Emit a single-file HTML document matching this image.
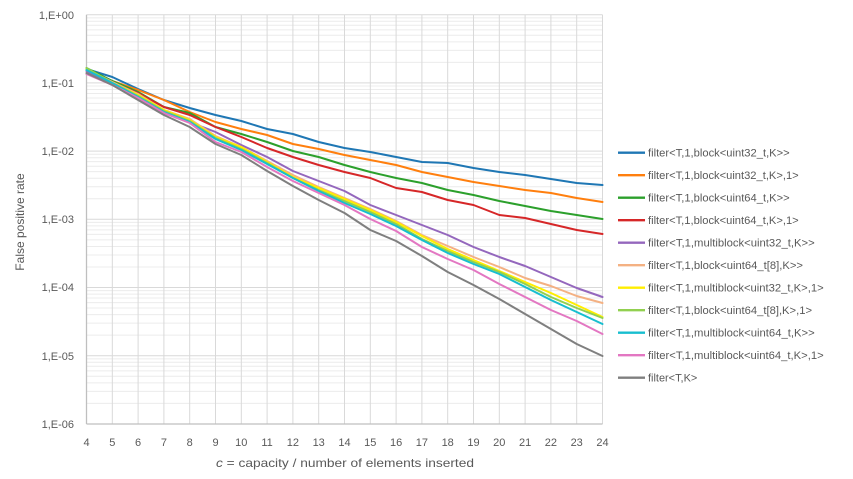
<!DOCTYPE html>
<html><head><meta charset="utf-8"><style>
html,body{margin:0;padding:0;background:#fff;}
svg{display:block;font-family:"Liberation Sans",sans-serif;}
</style></head><body>
<svg width="853" height="479" viewBox="0 0 853 479" xmlns="http://www.w3.org/2000/svg">
<rect width="853" height="479" fill="#fff"/>
<defs>
<g id="mn" stroke="#ececec" stroke-width="1">
<line x1="86.5" x2="602.5" y1="3.12" y2="3.12"/>
<line x1="86.5" x2="602.5" y1="6.61" y2="6.61"/>
<line x1="86.5" x2="602.5" y1="10.56" y2="10.56"/>
<line x1="86.5" x2="602.5" y1="15.13" y2="15.13"/>
<line x1="86.5" x2="602.5" y1="20.53" y2="20.53"/>
<line x1="86.5" x2="602.5" y1="27.14" y2="27.14"/>
<line x1="86.5" x2="602.5" y1="35.66" y2="35.66"/>
<line x1="86.5" x2="602.5" y1="47.67" y2="47.67"/>
</g>
</defs>
<use href="#mn" transform="translate(0,14.7)"/>
<use href="#mn" transform="translate(0,82.9)"/>
<use href="#mn" transform="translate(0,151.1)"/>
<use href="#mn" transform="translate(0,219.3)"/>
<use href="#mn" transform="translate(0,287.5)"/>
<use href="#mn" transform="translate(0,355.7)"/>
<g stroke="#d9d9d9" stroke-width="1">
<line x1="86.5" x2="602.5" y1="14.7" y2="14.7"/>
<line x1="86.5" x2="602.5" y1="82.9" y2="82.9"/>
<line x1="86.5" x2="602.5" y1="151.1" y2="151.1"/>
<line x1="86.5" x2="602.5" y1="219.3" y2="219.3"/>
<line x1="86.5" x2="602.5" y1="287.5" y2="287.5"/>
<line x1="86.5" x2="602.5" y1="355.7" y2="355.7"/>
<line y1="14.7" y2="424" x1="112.3" x2="112.3"/>
<line y1="14.7" y2="424" x1="138.1" x2="138.1"/>
<line y1="14.7" y2="424" x1="163.9" x2="163.9"/>
<line y1="14.7" y2="424" x1="189.7" x2="189.7"/>
<line y1="14.7" y2="424" x1="215.5" x2="215.5"/>
<line y1="14.7" y2="424" x1="241.3" x2="241.3"/>
<line y1="14.7" y2="424" x1="267.1" x2="267.1"/>
<line y1="14.7" y2="424" x1="292.9" x2="292.9"/>
<line y1="14.7" y2="424" x1="318.7" x2="318.7"/>
<line y1="14.7" y2="424" x1="344.5" x2="344.5"/>
<line y1="14.7" y2="424" x1="370.3" x2="370.3"/>
<line y1="14.7" y2="424" x1="396.1" x2="396.1"/>
<line y1="14.7" y2="424" x1="421.9" x2="421.9"/>
<line y1="14.7" y2="424" x1="447.7" x2="447.7"/>
<line y1="14.7" y2="424" x1="473.5" x2="473.5"/>
<line y1="14.7" y2="424" x1="499.3" x2="499.3"/>
<line y1="14.7" y2="424" x1="525.1" x2="525.1"/>
<line y1="14.7" y2="424" x1="550.9" x2="550.9"/>
<line y1="14.7" y2="424" x1="576.7" x2="576.7"/>
<line y1="14.7" y2="424" x1="602.5" x2="602.5"/>
</g>
<g stroke="#bfbfbf" stroke-width="1.3">
<line x1="86.5" x2="86.5" y1="14.7" y2="424"/>
<line x1="86.5" x2="602.5" y1="424" y2="424"/>
</g>
<g fill="none" stroke-width="2" stroke-linejoin="round" stroke-linecap="round">
<polyline stroke="#1f77b4" points="86.5,69 112.3,77 138.1,89 163.9,100 189.7,108 215.5,115 241.3,121 267.1,129 292.9,134 318.7,142 344.5,148 370.3,152 396.1,157 421.9,162 447.7,163 473.5,168 499.3,172 525.1,175 550.9,179 576.7,183 602.5,185"/>
<polyline stroke="#ff7f0e" points="86.5,70 112.3,81 138.1,90 163.9,100 189.7,112 215.5,122 241.3,129 267.1,135 292.9,144 318.7,149 344.5,155 370.3,160 396.1,165 421.9,172 447.7,177 473.5,182 499.3,186 525.1,190 550.9,193 576.7,198 602.5,202"/>
<polyline stroke="#2ca02c" points="86.5,68 112.3,81 138.1,92 163.9,107 189.7,113 215.5,127 241.3,134 267.1,142 292.9,151 318.7,157 344.5,165 370.3,172 396.1,178 421.9,183 447.7,190 473.5,195 499.3,201 525.1,206 550.9,211 576.7,215 602.5,219"/>
<polyline stroke="#d62728" points="86.5,70 112.3,83 138.1,93 163.9,107 189.7,115 215.5,127 241.3,137 267.1,148 292.9,157 318.7,165 344.5,172 370.3,178 396.1,188 421.9,192 447.7,200 473.5,205 499.3,215 525.1,218 550.9,224 576.7,230 602.5,234"/>
<polyline stroke="#9467bd" points="86.5,71 112.3,84 138.1,97 163.9,113 189.7,122 215.5,132 241.3,145 267.1,157 292.9,171 318.7,181 344.5,191 370.3,205 396.1,215 421.9,225 447.7,235 473.5,247 499.3,257 525.1,266 550.9,277 576.7,288 602.5,297"/>
<polyline stroke="#f4b183" points="86.5,69 112.3,82 138.1,94 163.9,110 189.7,119 215.5,136 241.3,147 267.1,161 292.9,175 318.7,187 344.5,198 370.3,209 396.1,221 421.9,235 447.7,246 473.5,257 499.3,267 525.1,278 550.9,286 576.7,296 602.5,303"/>
<polyline stroke="#ffee00" points="86.5,69 112.3,83 138.1,95 163.9,110 189.7,120 215.5,137 241.3,147 267.1,162 292.9,177 318.7,188 344.5,199 370.3,210 396.1,222 421.9,236 447.7,249 473.5,260 499.3,271 525.1,282 550.9,293 576.7,305 602.5,317"/>
<polyline stroke="#92d050" points="86.5,68 112.3,83 138.1,96 163.9,111 189.7,121 215.5,138 241.3,149 267.1,163 292.9,178 318.7,190 344.5,201 370.3,212 396.1,224 421.9,239 447.7,251 473.5,262 499.3,272 525.1,284 550.9,297 576.7,308 602.5,318"/>
<polyline stroke="#17becf" points="86.5,70 112.3,83 138.1,97 163.9,112 189.7,122 215.5,139 241.3,150 267.1,164 292.9,178 318.7,191 344.5,203 370.3,214 396.1,226 421.9,240 447.7,253 473.5,264 499.3,274 525.1,287 550.9,300 576.7,312 602.5,324"/>
<polyline stroke="#e377c2" points="86.5,74 112.3,85 138.1,98 163.9,113 189.7,123 215.5,142 241.3,152 267.1,167 292.9,181 318.7,193 344.5,205 370.3,219 396.1,231 421.9,247 447.7,259 473.5,270 499.3,284 525.1,297 550.9,310 576.7,321 602.5,334"/>
<polyline stroke="#7f7f7f" points="86.5,73 112.3,85 138.1,100 163.9,115 189.7,127 215.5,144 241.3,155 267.1,171 292.9,186 318.7,200 344.5,213 370.3,230 396.1,241 421.9,256 447.7,272 473.5,285 499.3,299 525.1,314 550.9,329 576.7,344 602.5,356"/>
</g>
<g fill="#595959" font-size="11" text-anchor="end">
<text x="74" y="19">1,E+00</text>
<text x="74" y="87">1,E-01</text>
<text x="74" y="155">1,E-02</text>
<text x="74" y="223">1,E-03</text>
<text x="74" y="291">1,E-04</text>
<text x="74" y="360">1,E-05</text>
<text x="74" y="428">1,E-06</text>
</g>
<g fill="#595959" font-size="11" text-anchor="middle">
<text x="86.5" y="446">4</text>
<text x="112.3" y="446">5</text>
<text x="138.1" y="446">6</text>
<text x="163.9" y="446">7</text>
<text x="189.7" y="446">8</text>
<text x="215.5" y="446">9</text>
<text x="241.3" y="446">10</text>
<text x="267.1" y="446">11</text>
<text x="292.9" y="446">12</text>
<text x="318.7" y="446">13</text>
<text x="344.5" y="446">14</text>
<text x="370.3" y="446">15</text>
<text x="396.1" y="446">16</text>
<text x="421.9" y="446">17</text>
<text x="447.7" y="446">18</text>
<text x="473.5" y="446">19</text>
<text x="499.3" y="446">20</text>
<text x="525.1" y="446">21</text>
<text x="550.9" y="446">22</text>
<text x="576.7" y="446">23</text>
<text x="602.5" y="446">24</text>
</g>
<text x="216" y="467" fill="#595959" font-size="12" textLength="258" lengthAdjust="spacingAndGlyphs"><tspan font-style="italic">c</tspan> = capacity / number of elements inserted</text>
<text transform="translate(24,222) rotate(-90)" fill="#595959" font-size="12" text-anchor="middle">False positive rate</text>
<g stroke-width="2.4">
<line x1="618" x2="645" y1="152.7" y2="152.7" stroke="#1f77b4"/>
<line x1="618" x2="645" y1="175.2" y2="175.2" stroke="#ff7f0e"/>
<line x1="618" x2="645" y1="197.7" y2="197.7" stroke="#2ca02c"/>
<line x1="618" x2="645" y1="220.2" y2="220.2" stroke="#d62728"/>
<line x1="618" x2="645" y1="242.7" y2="242.7" stroke="#9467bd"/>
<line x1="618" x2="645" y1="265.2" y2="265.2" stroke="#f4b183"/>
<line x1="618" x2="645" y1="287.7" y2="287.7" stroke="#ffee00"/>
<line x1="618" x2="645" y1="310.2" y2="310.2" stroke="#92d050"/>
<line x1="618" x2="645" y1="332.7" y2="332.7" stroke="#17becf"/>
<line x1="618" x2="645" y1="355.2" y2="355.2" stroke="#e377c2"/>
<line x1="618" x2="645" y1="377.7" y2="377.7" stroke="#7f7f7f"/>
</g>
<g fill="#595959" font-size="11">
<text x="648" y="156.7" textLength="141.7" lengthAdjust="spacingAndGlyphs">filter&lt;T,1,block&lt;uint32_t,K&gt;&gt;</text>
<text x="648" y="179.2" textLength="150.7" lengthAdjust="spacingAndGlyphs">filter&lt;T,1,block&lt;uint32_t,K&gt;,1&gt;</text>
<text x="648" y="201.7" textLength="141.7" lengthAdjust="spacingAndGlyphs">filter&lt;T,1,block&lt;uint64_t,K&gt;&gt;</text>
<text x="648" y="224.2" textLength="150.7" lengthAdjust="spacingAndGlyphs">filter&lt;T,1,block&lt;uint64_t,K&gt;,1&gt;</text>
<text x="648" y="246.7" textLength="166.7" lengthAdjust="spacingAndGlyphs">filter&lt;T,1,multiblock&lt;uint32_t,K&gt;&gt;</text>
<text x="648" y="269.2" textLength="155" lengthAdjust="spacingAndGlyphs">filter&lt;T,1,block&lt;uint64_t[8],K&gt;&gt;</text>
<text x="648" y="291.7" textLength="175.7" lengthAdjust="spacingAndGlyphs">filter&lt;T,1,multiblock&lt;uint32_t,K&gt;,1&gt;</text>
<text x="648" y="314.2" textLength="164" lengthAdjust="spacingAndGlyphs">filter&lt;T,1,block&lt;uint64_t[8],K&gt;,1&gt;</text>
<text x="648" y="336.7" textLength="166.7" lengthAdjust="spacingAndGlyphs">filter&lt;T,1,multiblock&lt;uint64_t,K&gt;&gt;</text>
<text x="648" y="359.2" textLength="175.7" lengthAdjust="spacingAndGlyphs">filter&lt;T,1,multiblock&lt;uint64_t,K&gt;,1&gt;</text>
<text x="648" y="381.7" textLength="49.3" lengthAdjust="spacingAndGlyphs">filter&lt;T,K&gt;</text>
</g>
</svg>
</body></html>
